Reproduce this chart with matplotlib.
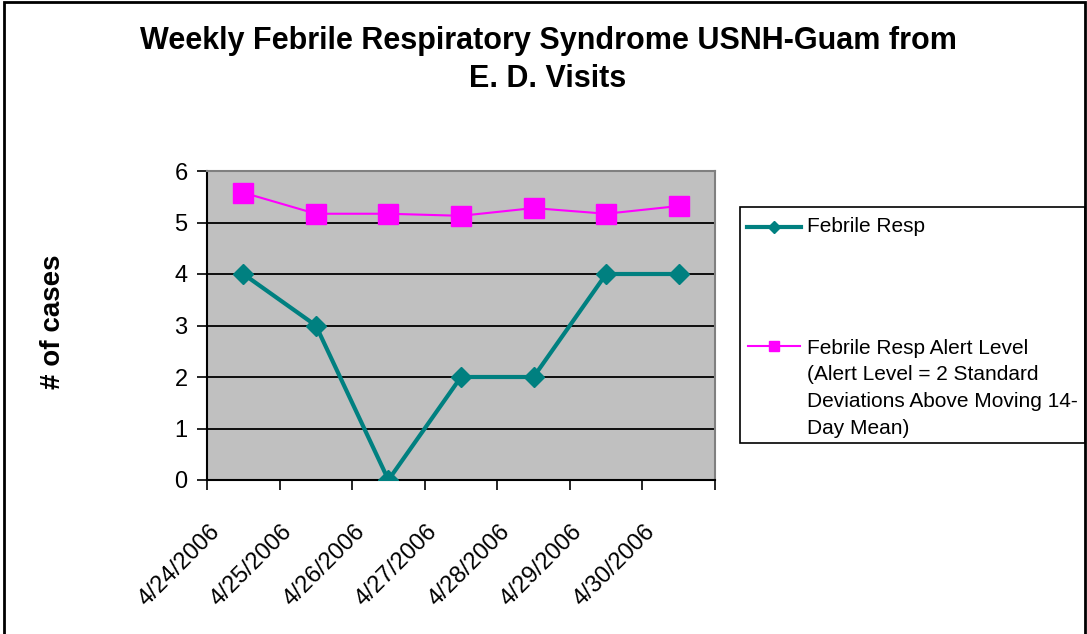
import numpy as np
import matplotlib
matplotlib.use('Agg')
import matplotlib.pyplot as plt
from matplotlib.patches import Rectangle
from matplotlib.lines import Line2D
from matplotlib.transforms import ScaledTranslation

dates = ["4/24/2006", "4/25/2006", "4/26/2006", "4/27/2006",
         "4/28/2006", "4/29/2006", "4/30/2006"]
febrile_resp = [4, 3, 0, 2, 2, 4, 4]
alert_level = [5.58, 5.17, 5.17, 5.13, 5.28, 5.17, 5.32]
labels = ["Febrile Resp",
          "Febrile Resp Alert Level\n(Alert Level = 2 Standard\nDeviations Above Moving 14-\nDay Mean)"]

plt.rcParams['font.family'] = ['Liberation Sans', 'DejaVu Sans']

W, H = 1087, 634
fig = plt.figure(figsize=(W / 100, H / 100), dpi=100)
ax = fig.add_axes([207 / W, 1 - 480 / H, 508 / W, 309 / H])

x = np.arange(len(dates))
ax.plot(x, febrile_resp, color='#008080', lw=3, marker='D', ms=10, zorder=3)
ax.plot(x, alert_level, color='#FF00FF', lw=1.5, marker='s', ms=14, zorder=3)

ax.set_facecolor('#C0C0C0')
ax.set_xlim(-0.5, 6.5)
ax.set_ylim(0, 6)
ax.set_yticks(range(7))
ax.yaxis.grid(True, color='black', lw=1.3)
ax.set_axisbelow(True)
ax.tick_params(axis='y', labelsize=17, length=7, width=1.2, pad=7)

ax.set_xticks(x)
ax.set_xticklabels(dates, rotation=45, ha='right', va='center',
                   rotation_mode='anchor', fontsize=17)
ax.set_xticks(np.arange(-0.5, 7, 1), minor=True)
ax.tick_params(axis='x', which='major', length=0, pad=35)
ax.tick_params(axis='x', which='minor', length=7, width=1.2)
for lab in ax.get_xticklabels():
    lab.set_transform(lab.get_transform() + ScaledTranslation(-0.27, 0, fig.dpi_scale_trans))

for side in ['top', 'right']:
    ax.spines[side].set_color('#808080')
    ax.spines[side].set_linewidth(1.5)
for side in ['left', 'bottom']:
    ax.spines[side].set_color('black')
    ax.spines[side].set_linewidth(1.5)

fig.text(53 / W, 1 - 322 / H, '# of cases', rotation=90, ha='center', va='center',
         fontsize=20, fontweight='bold')

fig.text(548 / W, 1 - 60 / H, 'Weekly Febrile Respiratory Syndrome USNH-Guam from\nE. D. Visits',
         ha='center', va='center', fontsize=22, fontweight='bold',
         linespacing=1.38)

# legend drawn by hand so the second marker sits on the first text line
fig.patches.append(Rectangle((740 / W, 1 - 443 / H), 345 / W, 236 / H,
                             transform=fig.transFigure, fill=False,
                             edgecolor='black', lw=1.2))
fig.lines.append(Line2D([747 / W, 801 / W], [1 - 227 / H] * 2, transform=fig.transFigure,
                        color='#008080', lw=3))
fig.lines.append(Line2D([774 / W], [1 - 227 / H], transform=fig.transFigure,
                        color='#008080', marker='D', ms=6))
fig.lines.append(Line2D([748 / W, 800 / W], [1 - 346 / H] * 2, transform=fig.transFigure,
                        color='#FF00FF', lw=1.5))
fig.lines.append(Line2D([774 / W], [1 - 346 / H], transform=fig.transFigure,
                        color='#FF00FF', marker='s', ms=7))
fig.text(807 / W, 1 - 227 / H, labels[0], ha='left', va='center', fontsize=15)
fig.text(807 / W, 1 - 339 / H, labels[1], ha='left', va='top', fontsize=15,
         linespacing=1.5)

fig.patches.append(Rectangle((4 / W, -0.05), 1081 / W, 1.047,
                             transform=fig.transFigure, fill=False,
                             edgecolor='black', lw=2))

fig.savefig('out.png', dpi=100)
